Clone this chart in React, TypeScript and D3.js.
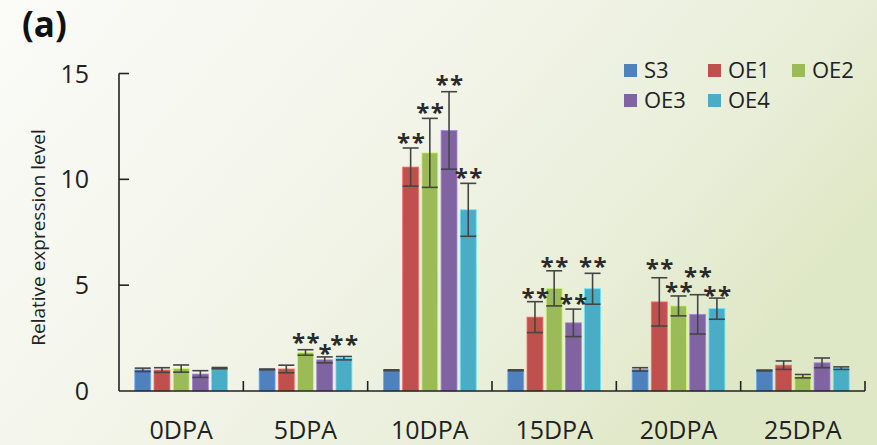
import React from 'react';
import * as d3 from 'd3';

// Stages and lines
const categories = ['0DPA', '5DPA', '10DPA', '15DPA', '20DPA', '25DPA'];
const seriesNames = ['S3', 'OE1', 'OE2', 'OE3', 'OE4'];
const seriesColors = ['#4f81bd', '#c0504d', '#9bbb59', '#8064a2', '#4bacc6'];

// Mean relative expression per stage
const s3Means = [1.0, 1.02, 0.98, 0.98, 1.02, 0.97];
const oe1Means = [0.99, 1.04, 10.58, 3.49, 4.21, 1.22];
const oe2Means = [1.06, 1.82, 11.25, 4.85, 4.02, 0.7];
const oe3Means = [0.8, 1.47, 12.31, 3.22, 3.62, 1.33];
const oe4Means = [1.08, 1.55, 8.56, 4.83, 3.89, 1.08];

// Standard deviations
const s3Errors = [0.08, 0.02, 0.02, 0.02, 0.08, 0.02];
const oe1Errors = [0.11, 0.18, 0.9, 0.73, 1.14, 0.2];
const oe2Errors = [0.17, 0.13, 1.63, 0.83, 0.47, 0.08];
const oe3Errors = [0.16, 0.14, 1.83, 0.65, 0.93, 0.23];
const oe4Errors = [0.03, 0.08, 1.25, 0.73, 0.5, 0.06];

// Significance marks and the level (in expression units) they sit at
const s3Marks = ['', '', '', '', '', ''];
const oe1Marks = ['', '', '**', '**', '**', ''];
const oe2Marks = ['', '**', '**', '**', '**', ''];
const oe3Marks = ['', '*', '**', '**', '**', ''];
const oe4Marks = ['', '**', '**', '**', '**', ''];
const s3MarkLevels = [0, 0, 0, 0, 0, 0];
const oe1MarkLevels = [0, 0, 11.92, 4.58, 5.95, 0];
const oe2MarkLevels = [0, 2.46, 13.31, 6.06, 4.87, 0];
const oe3MarkLevels = [0, 1.94, 14.64, 4.3, 5.59, 0];
const oe4MarkLevels = [0, 2.36, 10.25, 6.06, 4.69, 0];

const yTicks = [0, 5, 10, 15];

const allMeans = [s3Means, oe1Means, oe2Means, oe3Means, oe4Means];
const allErrors = [s3Errors, oe1Errors, oe2Errors, oe3Errors, oe4Errors];
const allMarks = [s3Marks, oe1Marks, oe2Marks, oe3Marks, oe4Marks];
const allMarkLevels = [s3MarkLevels, oe1MarkLevels, oe2MarkLevels, oe3MarkLevels, oe4MarkLevels];

const W = 877;
const H = 445;
const FONT = '"Open Sans", "Noto Sans", sans-serif';

export default function App() {
  const left = 119;
  const right = 865;
  const top = 73.5;
  const bottom = 391;

  const y = d3.scaleLinear().domain([0, 15]).range([bottom, top]);
  const x0 = d3.scaleBand<string>().domain(categories).range([left, right]).paddingInner(0).paddingOuter(0);
  const x1 = d3
    .scaleBand<string>()
    .domain(seriesNames)
    .range([-48, 48])
    .paddingInner(0.17)
    .paddingOuter(0.085);
  const bw = x1.bandwidth();

  const bars: any[] = [];
  categories.forEach((cat, ci) => {
    seriesNames.forEach((s, si) => {
      const cx = (x0(cat) as number) + x0.bandwidth() / 2 + (x1(s) as number);
      bars.push({
        key: `${cat}-${s}`,
        x: cx,
        mean: allMeans[si][ci],
        err: allErrors[si][ci],
        mark: allMarks[si][ci],
        markLevel: allMarkLevels[si][ci],
        color: seriesColors[si],
      });
    });
  });

  const boundaries = categories.slice(1).map((c) => x0(c) as number).concat([right]);

  return (
    <svg
      width={W}
      height={H}
      style={{ position: 'absolute', left: 0, top: 0, display: 'block' }}
      fontFamily={FONT}
    >
      <defs>
        <linearGradient id="bg" x1="0" y1="0" x2="1" y2="0.45">
          <stop offset="0" stopColor="#fbfbf8" />
          <stop offset="0.45" stopColor="#f3f5ea" />
          <stop offset="0.8" stopColor="#e9eed9" />
          <stop offset="1" stopColor="#dfe8c6" />
        </linearGradient>
      </defs>
      <rect x={0} y={0} width={W} height={H} fill="url(#bg)" />

      <text x={22} y={37} fontSize={35} fontWeight="bold" fill="#111">
        (a)
      </text>

      {/* bars */}
      {bars.map((b) => (
        <rect
          key={b.key}
          x={b.x}
          y={y(b.mean)}
          width={bw}
          height={bottom - y(b.mean)}
          fill={b.color}
          stroke={d3.color(b.color)!.brighter(0.8).formatHex()}
          strokeWidth={0.8}
        />
      ))}

      {/* error bars */}
      {bars.map((b) => {
        const cx = b.x + bw / 2;
        const y1 = y(b.mean + b.err);
        const y2 = y(b.mean - b.err);
        return (
          <g key={`e-${b.key}`} stroke="#454545" strokeWidth={1.6}>
            <line x1={cx} x2={cx} y1={y1} y2={y2} />
            <line x1={cx - 8} x2={cx + 8} y1={y1} y2={y1} />
            <line x1={cx - 8} x2={cx + 8} y1={y2} y2={y2} />
          </g>
        );
      })}

      {/* significance marks */}
      {bars
        .filter((b) => b.mark)
        .map((b) => (
          <text
            key={`m-${b.key}`}
            x={b.x + bw / 2 + 1}
            y={y(b.markLevel) + 12}
            textAnchor="middle"
            fontSize={24}
            fontWeight="bold"
            letterSpacing={1.5}
            fill="#2a2a2a"
          >
            {b.mark}
          </text>
        ))}

      {/* axes */}
      <g stroke="#222" strokeWidth={1.6} fill="none">
        <line x1={left} x2={left} y1={top} y2={bottom} />
        <line x1={left} x2={right} y1={bottom} y2={bottom} />
        {yTicks
          .filter((t) => t > 0)
          .map((t) => (
            <line key={`yt-${t}`} x1={left} x2={left + 10} y1={y(t)} y2={y(t)} />
          ))}
        {boundaries.map((bx, i) => (
          <line key={`xt-${i}`} x1={bx} x2={bx} y1={bottom} y2={bottom - 10} />
        ))}
      </g>

      {yTicks.map((t) => (
        <text key={`yl-${t}`} x={89} y={y(t)} dy="0.36em" textAnchor="end" fontSize={25} fill="#222">
          {t}
        </text>
      ))}

      {categories.map((c) => (
        <text
          key={`xl-${c}`}
          x={(x0(c) as number) + x0.bandwidth() / 2}
          y={439}
          textAnchor="middle"
          fontSize={25}
          fill="#222"
        >
          {c}
        </text>
      ))}

      <text
        transform={`translate(45, 237.5) rotate(-90)`}
        textAnchor="middle"
        fontSize={19}
        fill="#222"
      >
        Relative expression level
      </text>

      {/* legend */}
      {seriesNames.map((s, i) => {
        const col = i % 3;
        const row = Math.floor(i / 3);
        const lx = 624 + col * 84;
        const ly = 70.5 + row * 30;
        return (
          <g key={`lg-${s}`}>
            <rect x={lx} y={ly - 6.5} width={13} height={13} fill={seriesColors[i]} />
            <text x={lx + 20} y={ly} dy="0.36em" fontSize={22} fill="#222">
              {s}
            </text>
          </g>
        );
      })}
    </svg>
  );
}
